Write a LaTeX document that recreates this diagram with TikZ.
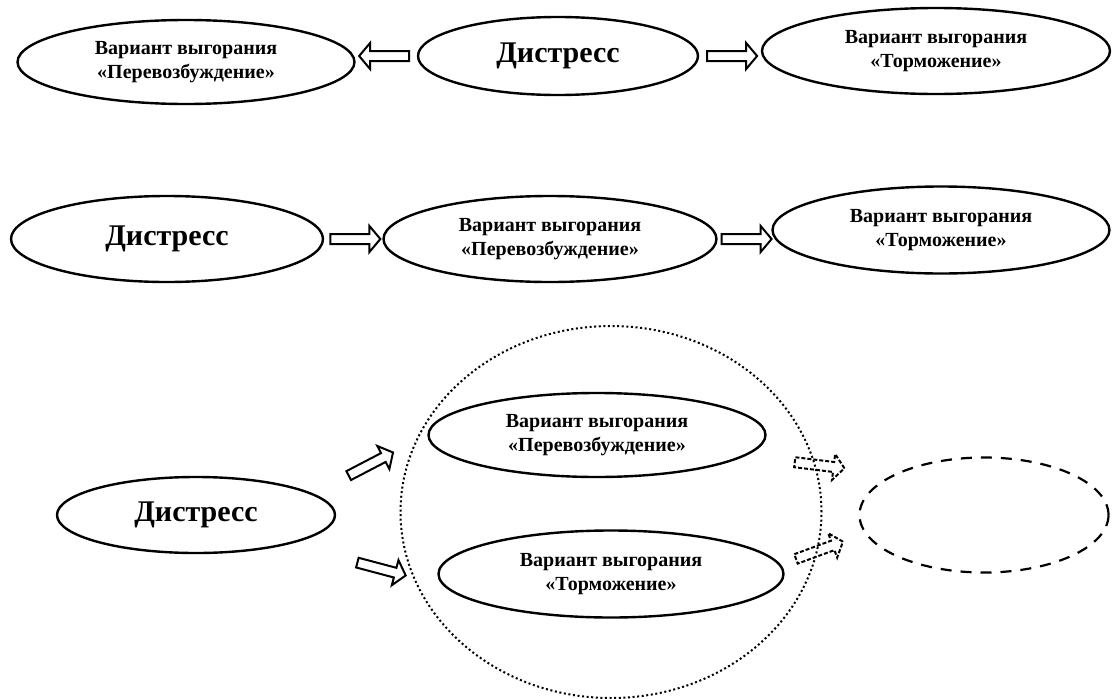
\documentclass[tikz,border=0pt]{standalone}
\usepackage{fontspec}
\setmainfont{Liberation Serif}
\usetikzlibrary{shapes.geometric,shapes.arrows}
\tikzstyle{oval} = [ellipse, draw=black, line width=2.4pt, inner sep=0pt, align=center, font=\bfseries\fontsize{20}{24}\selectfont]
\tikzstyle{distress} = [oval, font=\bfseries\fontsize{30}{34}\selectfont]
\tikzstyle{hollow} = [single arrow, draw=black, line width=2pt, inner xsep=0pt, inner ysep=4pt, single arrow head extend=8pt, single arrow tip angle=100, minimum height=50pt, sloped, allow upside down]
\tikzstyle{hollowdash} = [hollow, dash pattern=on 4pt off 2pt]
\newcommand{\vyg}{Вариант выгорания}

\begin{document}
\begin{tikzpicture}[x=1pt, y=-1pt]%
	\useasboundingbox (0,0) rectangle (1112,699);%
	% first scheme
	\node [oval, minimum width=337pt, minimum height=84pt] (over1) at (186,62) {\vyg\\«Перевозбуждение»};%
	\node [distress, minimum width=280pt, minimum height=78pt] (dis1) at (558,56) {Дистресс};%
	\node [oval, minimum width=348pt, minimum height=86pt] (brake1) at (936,51) {\vyg\\«Торможение»};%
	\path (dis1.west) -- node [hollow] {} (dis1.west -| over1.east);%
	\path (dis1.east) -- node [hollow] {} (dis1.east -| brake1.west);%
	% second scheme
	\node [distress, minimum width=312pt, minimum height=86pt] (dis2) at (167,239) {Дистресс};%
	\node [oval, minimum width=333pt, minimum height=86pt] (over2) at (550,239) {\vyg\\«Перевозбуждение»};%
	\node [oval, minimum width=337pt, minimum height=87pt] (brake2) at (941,230) {\vyg\\«Торможение»};%
	\path (dis2.east) -- node [hollow] {} (over2.west);%
	\path (over2.east) -- node [hollow] {} (over2.east -| brake2.west);%
	% third scheme
	\node [distress, minimum width=278pt, minimum height=76pt] (dis3) at (196,515) {Дистресс};%
	\node [ellipse, draw=black, line width=2pt, dash pattern=on 2pt off 2.6pt, minimum width=421pt, minimum height=372pt] (grp) at (611,512) {};%
	\node [oval, minimum width=337pt, minimum height=84pt] (over3) at (597,435) {\vyg\\«Перевозбуждение»};%
	\node [oval, minimum width=345pt, minimum height=87pt] (brake3) at (611,574) {\vyg\\«Торможение»};%
	\node [ellipse, draw=black, line width=2.2pt, dash pattern=on 11pt off 9pt, minimum width=249pt, minimum height=115pt] (unknown) at (984,515) {};%
	\coordinate (in1) at (346,477);%
	\coordinate (in2) at (392,453);%
	\coordinate (in3) at (355,562);%
	\coordinate (in4) at (404,575);%
	\coordinate (out1) at (793,462);%
	\coordinate (out2) at (842,468);%
	\coordinate (out3) at (793,560);%
	\coordinate (out4) at (842,542);%
	\path (in1) -- node [hollow] {} (in2);%
	\path (in3) -- node [hollow] {} (in4);%
	\path (out1) -- node [hollowdash] {} (out2);%
	\path (out3) -- node [hollowdash] {} (out4);%
\end{tikzpicture}
\end{document}
